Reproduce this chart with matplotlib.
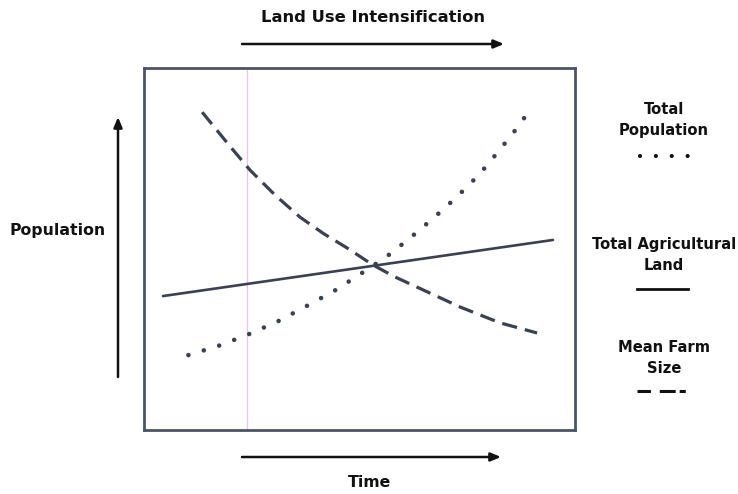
import matplotlib
matplotlib.use("Agg")
import matplotlib.pyplot as plt

# ---- data (arbitrary conceptual units, 0-100 on both axes) ----
land_time = [4.4, 94.9]
land_value = [37.0, 52.5]

pop_time = [10.3, 17.2, 24.2, 31.2, 37.5, 44.1, 50.1, 56.3, 61.7, 67.5, 72.6, 77.8, 82.4, 86.8, 88.4]
pop_value = [20.7, 23.2, 26.4, 30.1, 34.1, 38.4, 43.0, 47.9, 53.0, 58.9, 64.4, 70.6, 77.2, 83.8, 86.5]

farm_time = [13.5, 20.0, 24.6, 30.4, 36.2, 41.6, 47.1, 53.1, 58.2, 63.3, 73.3, 82.6, 91.2]
farm_value = [87.8, 78.3, 71.8, 64.9, 58.8, 54.3, 50.3, 45.6, 42.3, 39.5, 34.0, 29.6, 26.8]

series_labels = ["Total\nPopulation", "Total Agricultural\nLand", "Mean Farm\nSize"]
x_label = "Time"
y_label = "Population"
top_label = "Land Use Intensification"

W, H = 738, 494
fig = plt.figure(figsize=(W / 100, H / 100), dpi=100)
fig.patch.set_facecolor("white")

line_col = "#3b4150"
frame_col = "#4d5563"
font = dict(family="DejaVu Sans", fontweight="bold", color="#111111")

# main axes (box)
bx0, by0, bx1, by1 = 144, 68, 575, 430
ax = fig.add_axes([bx0 / W, 1 - by1 / H, (bx1 - bx0) / W, (by1 - by0) / H])
ax.set_xlim(0, 100)
ax.set_ylim(0, 100)
ax.set_xticks([])
ax.set_yticks([])
for s in ax.spines.values():
    s.set_color(frame_col)
    s.set_linewidth(2.0)

# faint scan line
ax.axvline(23.9, color="#e9b6e2", lw=0.9, alpha=0.8)

ax.plot(land_time, land_value, color=line_col, lw=1.9, solid_capstyle="round")
ax.plot(pop_time, pop_value, color=line_col, lw=3.3, dashes=(0.01, 3.5),
        dash_capstyle="round")
ax.plot(farm_time, farm_value, color=line_col, lw=2.3, dashes=(4.8, 2.5),
        dash_capstyle="butt")

# overlay for annotations in pixel coords
ov = fig.add_axes([0, 0, 1, 1], zorder=-1)
ov.set_xlim(0, W)
ov.set_ylim(H, 0)
ov.axis("off")

arrow_kw = dict(arrowstyle="-|>,head_length=0.6,head_width=0.25", color="#111111",
                lw=1.8, shrinkA=0, shrinkB=0)
ov.annotate("", xy=(504, 44), xytext=(242, 44), arrowprops=arrow_kw)
ov.annotate("", xy=(501, 457), xytext=(242, 457), arrowprops=arrow_kw)
ov.annotate("", xy=(118, 117), xytext=(118, 377), arrowprops=arrow_kw)

ov.text(373, 17, top_label, ha="center", va="center", fontsize=11.8, **font)
ov.text(370, 482, x_label, ha="center", va="center", fontsize=11.3, **font)
ov.text(58, 230, y_label, ha="center", va="center", fontsize=11.3, **font)

ov.text(664, 120, series_labels[0], ha="center", va="center", fontsize=10.6,
        linespacing=1.45, **font)
ov.text(664, 255, series_labels[1], ha="center", va="center", fontsize=10.6,
        linespacing=1.45, **font)
ov.text(664, 358, series_labels[2], ha="center", va="center", fontsize=10.6,
        linespacing=1.45, **font)

ov.plot([640, 690], [156, 156], color="#111111", lw=3.0, dashes=(0.01, 3.8),
        dash_capstyle="round")
ov.plot([637, 688], [289, 289], color="#111111", lw=2.0)
ov.plot([637, 688], [391, 391], color="#111111", lw=2.2,
        dashes=(4.4, 2.9, 5.2, 1.3, 2.0, 50))

fig.savefig("out.png", dpi=100, facecolor="white")
